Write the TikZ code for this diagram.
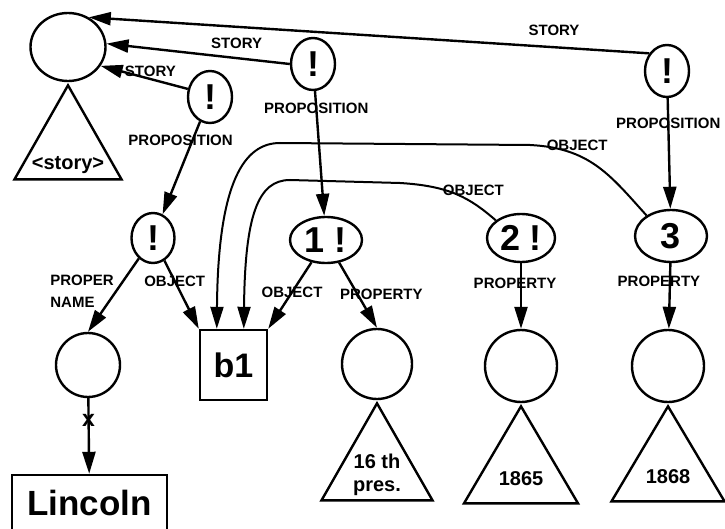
\documentclass[tikz,border=0pt]{standalone}
\usepackage{fontspec}
\setmainfont{Liberation Sans}
\usetikzlibrary{shapes.geometric,arrows.meta,positioning}

\begin{document}
\begin{tikzpicture}[x=1pt, y=-1pt, line width=2.4pt,
  prop/.style = {draw, ellipse, inner sep=0pt, minimum width=44pt, minimum height=52pt, font=\fontsize{36}{36}\selectfont\bfseries},
  ent/.style = {draw, circle, inner sep=0pt},
  box/.style = {draw, rectangle, inner sep=0pt, font=\fontsize{34}{34}\selectfont\bfseries},
  tri/.style = {draw, isosceles triangle, shape border rotate=90, isosceles triangle stretches, inner sep=0pt, anchor=apex},
  lbl/.style = {font=\fontsize{15}{22}\selectfont\bfseries, inner sep=1pt},
  txt/.style = {font=\fontsize{20}{23}\selectfont\bfseries, align=center, inner sep=0pt},
  rel/.style = {-{Triangle[length=22pt,width=13pt]}}]
\clip (0,0) rectangle (725,529);

\node[draw, ellipse, minimum width=75pt, minimum height=68pt] (story) at (68,47) {};
\node[tri, minimum width=107pt, minimum height=94pt] (storytri) at (story.south) {};
\node[txt, above=6pt of storytri.lower side] {<story>};

\node[prop] (p1) at (210,97) {!};
\node[prop] (p2) at (313,64) {!};
\node[prop] (p3) at (667,71) {!};

\node[prop, minimum width=43pt, minimum height=50pt] (n0) at (153,238) {!};
\node[prop, minimum width=72pt, minimum height=46pt] (n1) at (326,240) {1 !};
\node[prop, minimum width=68pt, minimum height=48pt] (n2) at (521,238) {2 !};
\node[prop, minimum width=72pt, minimum height=52pt] (n3) at (671,236) {3};

\node[ent, minimum size=64pt] (name) at (88,365) {};
\node[box, minimum width=155pt, minimum height=56pt, font=\fontsize{35}{35}\selectfont\bfseries] (lincoln) at (89.5,503) {Lincoln};
\node[box, minimum width=67pt, minimum height=70pt] (b1) at (233.5,365) {b1};
\node[ent, minimum size=70pt] (c1) at (377,364) {};
\node[ent, minimum size=72pt] (c2) at (521,366) {};
\node[ent, minimum size=72pt] (c3) at (668,366) {};

\node[tri, minimum width=111pt, minimum height=97pt] (t1) at (c1.south) {};
\node[txt, above=5pt of t1.lower side] {16 th\\pres.};
\node[tri, minimum width=114pt, minimum height=97pt] (t2) at (c2.south) {};
\node[txt, above=18pt of t2.lower side] {1865};
\node[tri, minimum width=113pt, minimum height=95pt] (t3) at (c3.south) {};
\node[txt, above=18pt of t3.lower side] {1868};

\draw[rel] (p3.135) -- node[lbl, pos=.17, above=9pt] {STORY} (story.55);
\draw[rel] (p2.180) -- node[lbl, pos=.29, above=7pt] {STORY} (story.5);
\draw[rel] (p1.160) -- node[lbl, pos=.43, above=0pt] {STORY} (story.-30);
\draw[rel] (p1) -- node[lbl, pos=.2, xshift=-12pt] {PROPOSITION} (n0);
\draw[rel] (p2) -- node[lbl, pos=.14] {PROPOSITION} (n1);
\draw[rel] (p3) -- node[lbl, pos=.23] {PROPOSITION} (n3);

\draw[rel] (n0) -- node[lbl, pos=.45, left=0pt, align=left] {PROPER\\NAME} (name.north);
\draw[rel] (n0) -- node[lbl, pos=.3] {OBJECT} (b1.north west);
\draw[rel] (n1) -- node[lbl, pos=.45] {OBJECT} (b1.north east);
\draw[rel] (n1) -- node[lbl, pos=.48, xshift=24pt] {PROPERTY} (c1.north);
\draw[rel] (n2) -- node[lbl, pos=.3, xshift=-6pt] {PROPERTY} (c2);
\draw[rel] (n3) -- node[lbl, pos=.28, xshift=-11pt] {PROPERTY} (c3);
\draw[rel] (name) -- node[lbl, pos=.3, font=\fontsize{23}{23}\selectfont\bfseries] {x} (lincoln);

% the two long OBJECT links
\draw[rel, line width=2pt] (n3.140) .. controls (610,175) and (590,148) .. node[lbl, pos=.72, anchor=south, xshift=5pt] {OBJECT} (530,145) -- (280,143) .. controls (245,143) and (218,180) .. ([xshift=18pt]b1.north west);
\draw[rel, line width=2pt] (n2.145) .. controls (470,198) and (450,186) .. node[lbl, pos=.4, anchor=south, xshift=8pt, yshift=1pt] {OBJECT} (400,183) -- (290,180) .. controls (258,180) and (245,215) .. ([xshift=45pt]b1.north west);
\end{tikzpicture}
\end{document}
